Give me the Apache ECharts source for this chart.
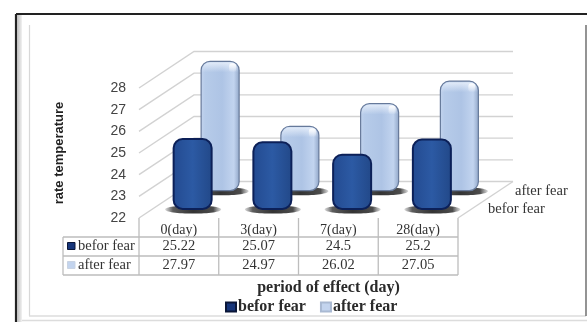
<!DOCTYPE html>
<html>
<head>
<meta charset="utf-8">
<style>html,body{margin:0;padding:0;background:#fff}#c{width:587px;height:322px}</style>
<script src="https://cdn.jsdelivr.net/npm/echarts@6/dist/echarts.min.js"></script>
</head>
<body>
<div id="c"></div>
<script>
// Temperature before and after fear, by period of effect
const categories = ['0(day)', '3(day)', '7(day)', '28(day)'];
const beforFear = [25.22, 25.07, 24.5, 25.2];
const afterFear = [27.97, 24.97, 26.02, 27.05];
const yTicks = [22, 23, 24, 25, 26, 27, 28];
const seriesNames = ['befor fear', 'after fear'];

const SERIF = '"Liberation Serif", serif';
const SANS = '"Liberation Sans", sans-serif';
const DEPTH_X = 55, DEPTH_Y = 36.5;   // oblique projection of the floor depth
const GRID = { left: 139, top: 88, width: 319, height: 130 };
const TABLE_LEFT = 63, ROW_Y = [237, 256, 275];
const GRID_COLOR = '#d2d2d2', TABLE_COLOR = '#bdbdbd';

function hGrad(stops) {
  return { type: 'linear', x: 0, y: 0, x2: 1, y2: 0,
    colorStops: stops.map(s => ({ offset: s[0], color: s[1] })) };
}
function vGrad(stops) {
  return { type: 'linear', x: 0, y: 0, x2: 0, y2: 1,
    colorStops: stops.map(s => ({ offset: s[0], color: s[1] })) };
}

// Back wall, left wall and floor outline
function renderWalls(params, api) {
  const p = api.coord([0, api.value(1)]);
  const band = api.size([1, 0])[0];
  const x0 = p[0] - band / 2, x1 = x0 + band * categories.length;
  const line = { stroke: GRID_COLOR, lineWidth: 1.4 };
  const children = [
    { type: 'polyline', shape: { points: [[x0, p[1]], [x0 + DEPTH_X, p[1] - DEPTH_Y], [x1 + DEPTH_X, p[1] - DEPTH_Y]] }, style: { fill: 'none', ...line } }
  ];
  if (params.dataIndex === 0) {
    children.push({ type: 'line', shape: { x1: x1, y1: p[1], x2: x1 + DEPTH_X, y2: p[1] - DEPTH_Y }, style: line });
  }
  return { type: 'group', children };
}

// Rounded column standing part-way into the floor, with its ground shadow
function barRenderer(depth, look) {
  return function (params, api) {
    const top = api.coord([api.value(0), api.value(1)]);
    const base = api.coord([api.value(0), yTicks[0]]);
    const w = 38;
    const cx = top[0] + DEPTH_X * depth, yTop = top[1] - DEPTH_Y * depth, yBase = base[1] - DEPTH_Y * depth;
    const h = yBase - yTop;
    const children = [
      { type: 'ellipse', shape: { cx: cx + 0.5, cy: yBase + 0.5, rx: 28, ry: 4.2 },
        style: { fill: hGrad([[0, 'rgba(110,110,110,0.25)'], [0.14, '#5c5c5c'], [0.5, '#333'], [0.86, '#4c4c4c'], [1, 'rgba(110,110,110,0.25)']]) } },
      { type: 'rect', shape: { x: cx - w / 2, y: yTop, width: w, height: h, r: 9 },
        style: { fill: hGrad(look.body), stroke: look.edge, lineWidth: look.edgeWidth } }
    ];
    if (look.gloss) {
      children.push(
        { type: 'rect', shape: { x: cx - w / 2 + 1, y: yTop + 1, width: w - 2, height: 10, r: [8, 8, 0, 0] },
          style: { fill: vGrad([[0, 'rgba(235,242,252,0.85)'], [1, 'rgba(235,242,252,0)']]) } },
        { type: 'rect', shape: { x: cx + w / 2 - 10, y: yTop + 2, width: 7, height: 9, r: 3 },
          style: { fill: vGrad([[0, 'rgba(255,255,255,0.95)'], [1, 'rgba(255,255,255,0)']]) } }
      );
    }
    return { type: 'group', children };
  };
}

const darkLook = {
  body: [[0, '#234a90'], [0.5, '#2c5aa4'], [1, '#224888']],
  edge: '#0c2058', edgeWidth: 2, gloss: false
};
const lightLook = {
  body: [[0, '#c3d4ee'], [0.12, '#b6cbe9'], [0.55, '#aec4e5'], [0.85, '#c2d4ef'], [1, '#8ea4c6']],
  edge: '#66799a', edgeWidth: 1.2, gloss: true
};

// Frame around the chart area
const frameLines = [
  [16, 14, 587, 14, '#222', 2.2],
  [16, 14, 16, 322, '#222', 2.2],
  [29.5, 25, 29.5, 316, '#d8d8d8', 1.2],
  [29, 316, 586, 316, '#dcdcdc', 1.6],
  [21, 320.5, 587, 320.5, '#dcdcdc', 1.4],
  [586, 25, 586, 316, '#666', 1.4]
];
const graphics = frameLines.map(l => ({
  type: 'line', silent: true, z: 0,
  shape: { x1: l[0], y1: l[1], x2: l[2], y2: l[3] },
  style: { stroke: l[4], lineWidth: l[5] }
}));
graphics.push({ type: 'rect', z: 0, silent: true, shape: { x: 17, y: 15, width: 5, height: 307 },
  style: { fill: hGrad([[0, '#bdbdbd'], [1, '#f2f2f2']]) } });

// Data table under the floor
const colX = categories.map((c, i) => GRID.left + GRID.width * i / categories.length);
colX.push(GRID.left + GRID.width);
const tableStroke = { stroke: TABLE_COLOR, lineWidth: 1.3 };
colX.forEach(x => graphics.push({ type: 'line', z: 1, silent: true,
  shape: { x1: x, y1: GRID.top + GRID.height, x2: x, y2: ROW_Y[2] }, style: tableStroke }));
graphics.push({ type: 'line', z: 1, silent: true,
  shape: { x1: TABLE_LEFT, y1: ROW_Y[0], x2: TABLE_LEFT, y2: ROW_Y[2] }, style: tableStroke });
ROW_Y.forEach(y => graphics.push({ type: 'line', z: 1, silent: true,
  shape: { x1: TABLE_LEFT, y1: y, x2: colX[4], y2: y }, style: tableStroke }));

[beforFear, afterFear].forEach((values, r) => {
  const yMid = (ROW_Y[r] + ROW_Y[r + 1]) / 2;
  graphics.push({ type: 'rect', z: 2, silent: true,
    shape: { x: 67.5, y: yMid - 4, width: 7.5, height: 7 },
    style: r === 0 ? { fill: '#16357a', stroke: '#0a1638', lineWidth: 1 } : { fill: '#c3d4ee', stroke: '#c9d3e2', lineWidth: 1 } });
  graphics.push({ type: 'text', z: 2, silent: true, x: 78, y: yMid,
    style: { text: seriesNames[r], font: '14.5px ' + SERIF, fill: '#333', textAlign: 'left', textVerticalAlign: 'middle' } });
  values.forEach((v, i) => graphics.push({ type: 'text', z: 2, silent: true,
    x: (colX[i] + colX[i + 1]) / 2, y: yMid,
    style: { text: String(v), font: '14.5px ' + SERIF, fill: '#333', textAlign: 'center', textVerticalAlign: 'middle' } }));
});

// Depth axis labels beside the floor
[[seriesNames[1], 515, 191], [seriesNames[0], 488, 209]].forEach(d => graphics.push({
  type: 'text', z: 2, silent: true, x: d[1], y: d[2],
  style: { text: d[0], font: '14.5px ' + SERIF, fill: '#333', textAlign: 'left', textVerticalAlign: 'middle' }
}));

const chart = echarts.init(document.getElementById('c'), null, { renderer: 'canvas' });
chart.setOption({
  animation: false,
  backgroundColor: '#fff',
  graphic: graphics,
  grid: GRID,
  legend: {
    data: seriesNames.map(name => ({ name, icon: 'rect' })),
    left: 220, top: 294, itemWidth: 10, itemHeight: 9, itemGap: 14,
    selectedMode: false,
    textStyle: { fontFamily: SERIF, fontWeight: 'bold', fontSize: 16, color: '#2a2a2a', padding: [0, 0, 0, -3] }
  },
  xAxis: {
    type: 'category', data: categories,
    axisLine: { show: false }, axisTick: { show: false }, splitLine: { show: false },
    axisLabel: { margin: 5, fontFamily: SERIF, fontSize: 14, color: '#333' },
    name: 'period of effect (day)', nameLocation: 'middle', nameGap: 62,
    nameTextStyle: { fontFamily: SERIF, fontWeight: 'bold', fontSize: 16, color: '#2a2a2a', padding: [0, 0, 0, 60] }
  },
  yAxis: {
    type: 'value', min: 22, max: 28, interval: 1,
    axisLine: { show: false }, axisTick: { show: false }, splitLine: { show: false },
    axisLabel: { margin: 13, fontFamily: SANS, fontSize: 14, color: '#444' },
    name: 'rate temperature', nameLocation: 'middle', nameGap: 73, nameRotate: 90,
    nameTextStyle: { fontFamily: SANS, fontWeight: 'bold', fontSize: 13, color: '#222' }
  },
  series: [
    { type: 'custom', name: 'walls', z: 1, silent: true, clip: false, renderItem: renderWalls,
      data: yTicks.map(v => [0, v]), encode: { x: 0, y: 1 } },
    { type: 'custom', name: seriesNames[1], z: 3, silent: true, clip: false, itemStyle: { color: '#c3d4ee', borderColor: '#a9b9d2', borderWidth: 1 },
      renderItem: barRenderer(0.75, lightLook),
      data: afterFear.map((v, i) => [i, v]), encode: { x: 0, y: 1 } },
    { type: 'custom', name: seriesNames[0], z: 4, silent: true, clip: false, itemStyle: { color: '#16357a', borderColor: '#0a1638', borderWidth: 1 },
      renderItem: barRenderer(0.25, darkLook),
      data: beforFear.map((v, i) => [i, v]), encode: { x: 0, y: 1 } }
  ]
});
</script>
</body>
</html>
